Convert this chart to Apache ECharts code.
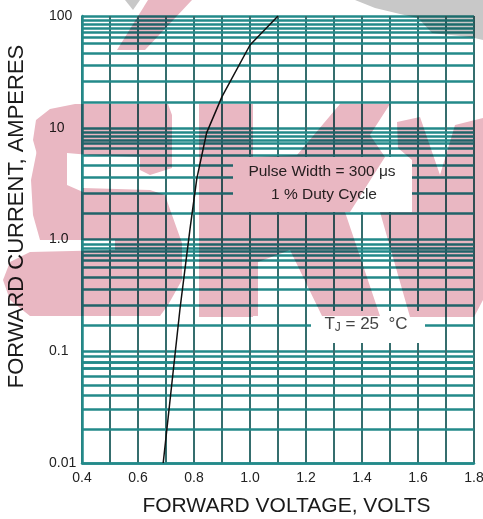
<!DOCTYPE html>
<html><head><meta charset="utf-8">
<script src="https://cdn.jsdelivr.net/npm/echarts@6/dist/echarts.min.js"></script>
<style>
html,body{margin:0;padding:0;background:#fff}
#c{width:483px;height:519px}
#c canvas + canvas{mix-blend-mode:multiply}
</style>
</head><body><div id="c"></div>
<script>
// ---- data ----
const voltage = [0.69, 0.75, 0.786, 0.81, 0.845, 0.9, 1.0, 1.1];
const current = [0.01, 0.24, 1.26, 3.5, 9, 19, 55, 100];
const yTickLabels = ['0.01', '0.1', '1.0', '10', '100'];
const decades = [0.01, 0.1, 1, 10];
const minorFactors = [1.7, 2.6, 3.6, 4.6, 5.7, 6.5, 7.2, 7.8, 8.4, 9.1];
const note1 = 'Pulse Width = 300 \u03bcs';
const note2 = '1 % Duty Cycle';

const H_COLOR = '#238a8a';
const V_COLOR = '#356e6e';
const FONT = 'Liberation Sans, Arial, sans-serif';
const PINK = 'rgb(233,183,194)';

const gridValues = [];
decades.forEach(d => minorFactors.forEach(f => gridValues.push(+(d * f).toPrecision(4))));

const curve = voltage.map((v, i) => [v, current[i]]);

// decorative watermark shapes (background logo)
const pinkShapes = [
  [[148,0],[192,0],[145,50],[117,50]],
  [[33,140],[36,120],[50,109],[75,104],[168,104],[172,115],[172,168],[150,175],[140,170],[140,157],[90,155],[67,153],[55,157],[40,165]],
  [[37,150],[67,150],[67,185],[83,192],[83,240],[40,240],[33,215],[31,180]],
  [[83,188],[150,190],[165,195],[172,215],[182,243],[182,252],[115,252],[115,240],[83,240]],
  [[115,250],[182,250],[182,280],[168,305],[160,316],[30,316],[10,300],[3,280],[10,262],[30,252]],
  [[199,104],[253,104],[253,317],[199,317]],
  [[340,104],[390,104],[370,135],[385,157],[350,212],[253,212],[253,157],[297,155]],
  [[253,212],[345,212],[380,316],[322,316],[290,250],[258,262],[258,316],[253,316]],
  [[397,122],[420,117],[440,175],[455,125],[483,118],[483,300],[474,317],[410,317],[380,212],[412,212],[412,160],[398,148]]
];
const grayShapes = [
  [[355,0],[483,0],[483,40],[470,37],[432,33],[418,18],[400,14],[375,8]],
  [[125,0],[140,0],[133,10]]
];

const graphics = [];
pinkShapes.forEach(p => graphics.push({type:'polygon', zlevel:1, z:0, silent:true, shape:{points:p}, style:{fill:PINK}}));
grayShapes.forEach(p => graphics.push({type:'polygon', zlevel:1, z:0, silent:true, shape:{points:p}, style:{fill:'#c8c8c8'}}));
graphics.push(
  {type:'rect', z:50, silent:true, shape:{x:233, y:157, width:179, height:55}, style:{fill:'#fff'}},
  {type:'text', z:51, silent:true, x:322, y:172, style:{text:note1, fontSize:15.5, fontFamily:FONT, fill:'#2a2a2a', align:'center', verticalAlign:'middle'}},
  {type:'text', z:51, silent:true, x:324, y:195, style:{text:note2, fontSize:15.5, fontFamily:FONT, fill:'#2a2a2a', align:'center', verticalAlign:'middle'}},
  {type:'rect', z:50, silent:true, shape:{x:311, y:311, width:114, height:32}, style:{fill:'#fff'}},
  {type:'text', z:51, silent:true, x:366, y:324, style:{
    text:'{t|T}{s|J}{t| = 25  \u00b0C}', align:'center', verticalAlign:'middle',
    rich:{t:{fontSize:17, fontFamily:FONT, fill:'#444'}, s:{fontSize:12, fontFamily:FONT, fill:'#444', padding:[7,0,0,0]}}
  }}
);

const chart = echarts.init(document.getElementById('c'), null, {renderer:'canvas'});
chart.setOption({
  animation:false,
  backgroundColor:'#fff',
  grid:{left:82, right:9, top:16, bottom:56, containLabel:false, outerBoundsMode:'none'},
  xAxis:{
    type:'value', min:0.4, max:1.8, interval:0.2,
    name:'FORWARD VOLTAGE, VOLTS', nameLocation:'middle', nameGap:33,
    nameTextStyle:{fontSize:21, fontFamily:FONT, color:'#1a1a1a', padding:[0,0,0,17]},
    axisLine:{show:true, lineStyle:{color:H_COLOR, width:2.5}},
    axisTick:{show:false},
    axisLabel:{margin:8, fontSize:14, fontFamily:FONT, color:'#222', formatter:v => v.toFixed(1)},
    splitLine:{show:true, lineStyle:{color:V_COLOR, width:2}},
    minorTick:{show:false, splitNumber:2},
    minorSplitLine:{show:true, lineStyle:{color:V_COLOR, width:2}}
  },
  yAxis:{
    type:'log', logBase:10, min:0.01, max:100,
    name:'FORWARD CURRENT, AMPERES', nameLocation:'middle', nameGap:54, nameRotate:90,
    nameTextStyle:{fontSize:22, fontFamily:FONT, color:'#1a1a1a', padding:[0,0,0,46]},
    axisLine:{show:true, lineStyle:{color:H_COLOR, width:2.5}},
    axisTick:{show:false},
    axisLabel:{align:'left', margin:33, fontSize:14, fontFamily:FONT, color:'#222',
      formatter:v => yTickLabels[Math.round(Math.log10(v)) + 2]},
    splitLine:{show:true, lineStyle:{color:H_COLOR, width:2.5}}
  },
  graphic:graphics,
  series:[
    {
      type:'line', data:[], z:1, silent:true,
      markLine:{
        silent:true, symbol:['none','none'], animation:false,
        label:{show:false}, emphasis:{disabled:true},
        lineStyle:{color:H_COLOR, width:2.5, type:'solid'},
        data:gridValues.map(v => ({yAxis:v}))
      }
    },
    {
      type:'line', data:curve, z:5, showSymbol:false, silent:true,
      lineStyle:{color:'#111', width:1.5}
    }
  ]
});
</script></body></html>
